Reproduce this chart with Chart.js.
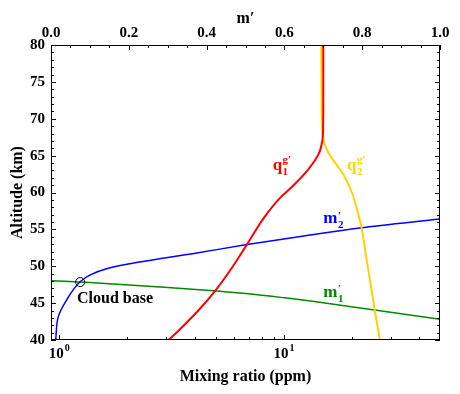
<!DOCTYPE html>
<html>
<head>
<meta charset="utf-8">
<script src="https://cdn.jsdelivr.net/npm/chart.js@4.4.0/dist/chart.umd.min.js"></script>
<style>
  html, body { margin: 0; padding: 0; background: #fff; }
  #caixa { width: 460px; height: 394px; }
</style>
</head>
<body>
<div id="caixa"><canvas id="grafico"></canvas></div>
<script>
// q1 g' (bottom axis, ppm)
const altQ1 = [40, 41.4, 44, 46.7, 49.9, 52.9, 56.7, 59.4, 60.7, 63.1, 65.3, 67.0, 68.5, 72, 80];
const valQ1 = [3.07, 3.43, 4.16, 4.95, 5.9, 6.83, 8.2, 9.7, 10.8, 12.8, 14.3, 14.8, 14.92, 14.95, 14.95];

// q2 g' (bottom axis, ppm)
const altQ2 = [40, 43.8, 47.5, 50.9, 55.3, 57.5, 59.9, 62.4, 63.6, 64.8, 66.0, 67.2, 68.3, 72, 80];
const valQ2 = [26.7, 25.4, 24.3, 23.3, 22.1, 21.2, 20.1, 18.4, 17.3, 16.2, 15.4, 14.95, 14.8, 14.7, 14.65];

// m2' (top axis)
const altM2 = [40, 43.2, 45.4, 47.9, 48.8, 49.7, 50.5, 51.8, 52.9, 54.1, 55.2, 56.4];
const valM2 = [0.012, 0.019, 0.040, 0.075, 0.100, 0.145, 0.22, 0.375, 0.5, 0.65, 0.794, 1.0];

// m1' (top axis)
const altM1 = [42.8, 43.55, 44.3, 45.05, 45.72, 46.3, 46.75, 47.12, 47.47, 47.78, 48.05];
const valM1 = [1.0, 0.9, 0.8, 0.7, 0.6, 0.5, 0.4, 0.3, 0.2, 0.1, 0];

// cloud base marker
const nuvemM = 0.075;
const nuvemAlt = 47.85;

const FONTE = "'Liberation Serif', 'Times New Roman', serif";
const VERMELHO = "#ff0000";
const AMARELO = "#ffd200";
const AZUL = "#0000ff";
const VERDE = "#008a00";

function pontos(alt, val) {
  return alt.map((a, i) => ({ x: val[i], y: a }));
}

function curva(label, alt, val, eixo, cor, largura) {
  return {
    label,
    data: pontos(alt, val),
    xAxisID: eixo,
    indexAxis: "y",
    borderColor: cor,
    borderWidth: largura,
    pointRadius: 0,
    fill: false,
    cubicInterpolationMode: "monotone"
  };
}

function rotulo(ctx, px, py, base, sub, sup, cor, supDy) {
  ctx.fillStyle = cor;
  ctx.textBaseline = "alphabetic";
  ctx.textAlign = "left";
  ctx.font = "bold 17px " + FONTE;
  ctx.fillText(base, px, py);
  const w = ctx.measureText(base).width;
  ctx.font = "bold 11px " + FONTE;
  if (sub) ctx.fillText(sub, px + w + 0.5, py + 5);
  if (sup) ctx.fillText(sup, px + w + 0.5, py - supDy);
}

const molduraPlugin = {
  id: "moldura",
  afterDatasetsDraw(chart) {
    const { ctx, chartArea: a, scales } = chart;
    const x = scales.x, x2 = scales.x2, y = scales.y;
    ctx.save();
    ctx.strokeStyle = "#000";
    ctx.lineWidth = 1;
    ctx.strokeRect(a.left + 0.5, a.top + 0.5, a.right - a.left - 1, a.bottom - a.top - 1);

    ctx.beginPath();
    // altitude ticks, both sides
    for (let v = 40; v <= 80; v++) {
      const py = Math.round(y.getPixelForValue(v)) + 0.5;
      const len = v % 5 === 0 ? 5 : 3;
      ctx.moveTo(a.left, py); ctx.lineTo(a.left + len, py);
      ctx.moveTo(a.right, py); ctx.lineTo(a.right - len, py);
    }
    // top ticks m'
    for (let i = 0; i <= 20; i++) {
      const px = Math.round(x2.getPixelForValue(i * 0.05)) + 0.5;
      const len = i % 4 === 0 ? 5 : 3;
      ctx.moveTo(px, a.top); ctx.lineTo(px, a.top + len);
    }
    // bottom log ticks
    for (let dec = 1; dec <= 10; dec *= 10) {
      for (let k = 1; k <= 9; k++) {
        const v = k * dec;
        if (v < x.min || v > x.max) continue;
        const px = Math.round(x.getPixelForValue(v)) + 0.5;
        const len = k === 1 ? 5 : 3;
        ctx.moveTo(px, a.bottom); ctx.lineTo(px, a.bottom - len);
      }
    }
    ctx.stroke();

    // bottom decade labels 10^n
    ctx.fillStyle = "#000";
    ctx.textBaseline = "alphabetic";
    ctx.textAlign = "left";
    [0, 1].forEach(exp => {
      const px = x.getPixelForValue(Math.pow(10, exp));
      ctx.font = "bold 15px " + FONTE;
      const w1 = ctx.measureText("10").width;
      ctx.font = "bold 10px " + FONTE;
      const w2 = ctx.measureText(String(exp)).width;
      const ini = px - (w1 + w2 + 1) / 2;
      ctx.font = "bold 15px " + FONTE;
      ctx.fillText("10", ini, a.bottom + 18);
      ctx.font = "bold 10px " + FONTE;
      ctx.fillText(String(exp), ini + w1 + 1, a.bottom + 11);
    });

    // curve labels
    rotulo(ctx, x.getPixelForValue(8.9), y.getPixelForValue(63.05), "q", "1", "g\u2032", VERMELHO, 7);
    rotulo(ctx, x.getPixelForValue(19.05), y.getPixelForValue(63.05), "q", "2", "g\u2032", AMARELO, 7);
    rotulo(ctx, x2.getPixelForValue(0.70), y.getPixelForValue(55.86), "m", "2", "\u2032", AZUL, 4);
    rotulo(ctx, x2.getPixelForValue(0.70), y.getPixelForValue(45.83), "m", "1", "\u2032", VERDE, 5);

    ctx.fillStyle = "#000";
    ctx.font = "bold 16px " + FONTE;
    ctx.fillText("Cloud base", x2.getPixelForValue(0.067), y.getPixelForValue(45.0));
    ctx.restore();
  }
};

new Chart(document.getElementById("grafico"), {
  type: "line",
  data: {
    datasets: [
      {
        label: "Cloud base",
        data: [{ x: nuvemM, y: nuvemAlt }],
        xAxisID: "x2",
        showLine: false,
        pointRadius: 4.5,
        pointBorderColor: "#000",
        pointBackgroundColor: "rgba(0,0,0,0)",
        pointBorderWidth: 1
      },
      curva("q1", altQ1, valQ1, "x", VERMELHO, 2),
      curva("q2", altQ2, valQ2, "x", AMARELO, 2),
      curva("m2", altM2, valM2, "x2", AZUL, 1.5),
      curva("m1", altM1, valM1, "x2", VERDE, 1.5)
    ]
  },
  options: {
    responsive: true,
    maintainAspectRatio: false,
    animation: false,
    layout: { padding: { left: 0, right: 20, top: 0, bottom: 0 } },
    plugins: {
      legend: { display: false },
      tooltip: { enabled: false }
    },
    scales: {
      x: {
        type: "logarithmic",
        position: "bottom",
        min: 0.92,
        max: 49.4,
        grid: { display: false, drawTicks: false },
        border: { display: false },
        ticks: { display: false },
        title: {
          display: true,
          text: "Mixing ratio (ppm)",
          color: "#000",
          font: { family: FONTE, size: 16, weight: "bold" },
          padding: { top: 0, bottom: 8 }
        },
        afterFit: s => { s.height = 54; }
      },
      x2: {
        type: "linear",
        position: "top",
        min: 0,
        max: 1,
        grid: { display: false, drawTicks: false },
        border: { display: false },
        ticks: {
          stepSize: 0.2,
          color: "#000",
          padding: 3,
          maxRotation: 0,
          font: { family: FONTE, size: 15, weight: "bold" },
          callback: v => Number(v).toFixed(1)
        },
        title: {
          display: true,
          text: "m\u2032",
          color: "#000",
          font: { family: FONTE, size: 16, weight: "bold" },
          padding: { top: 9, bottom: 0 }
        },
        afterFit: s => { s.height = 45; }
      },
      y: {
        type: "linear",
        position: "left",
        min: 40,
        max: 80,
        grid: { display: false, drawTicks: false },
        border: { display: false },
        ticks: {
          stepSize: 5,
          color: "#000",
          padding: 6,
          font: { family: FONTE, size: 15, weight: "bold" }
        },
        title: {
          display: true,
          text: "Altitude (km)",
          color: "#000",
          font: { family: FONTE, size: 16, weight: "bold" },
          padding: { top: 8, bottom: 0 }
        },
        afterFit: s => { s.width = 51; }
      }
    }
  },
  plugins: [molduraPlugin]
});
</script>
</body>
</html>
